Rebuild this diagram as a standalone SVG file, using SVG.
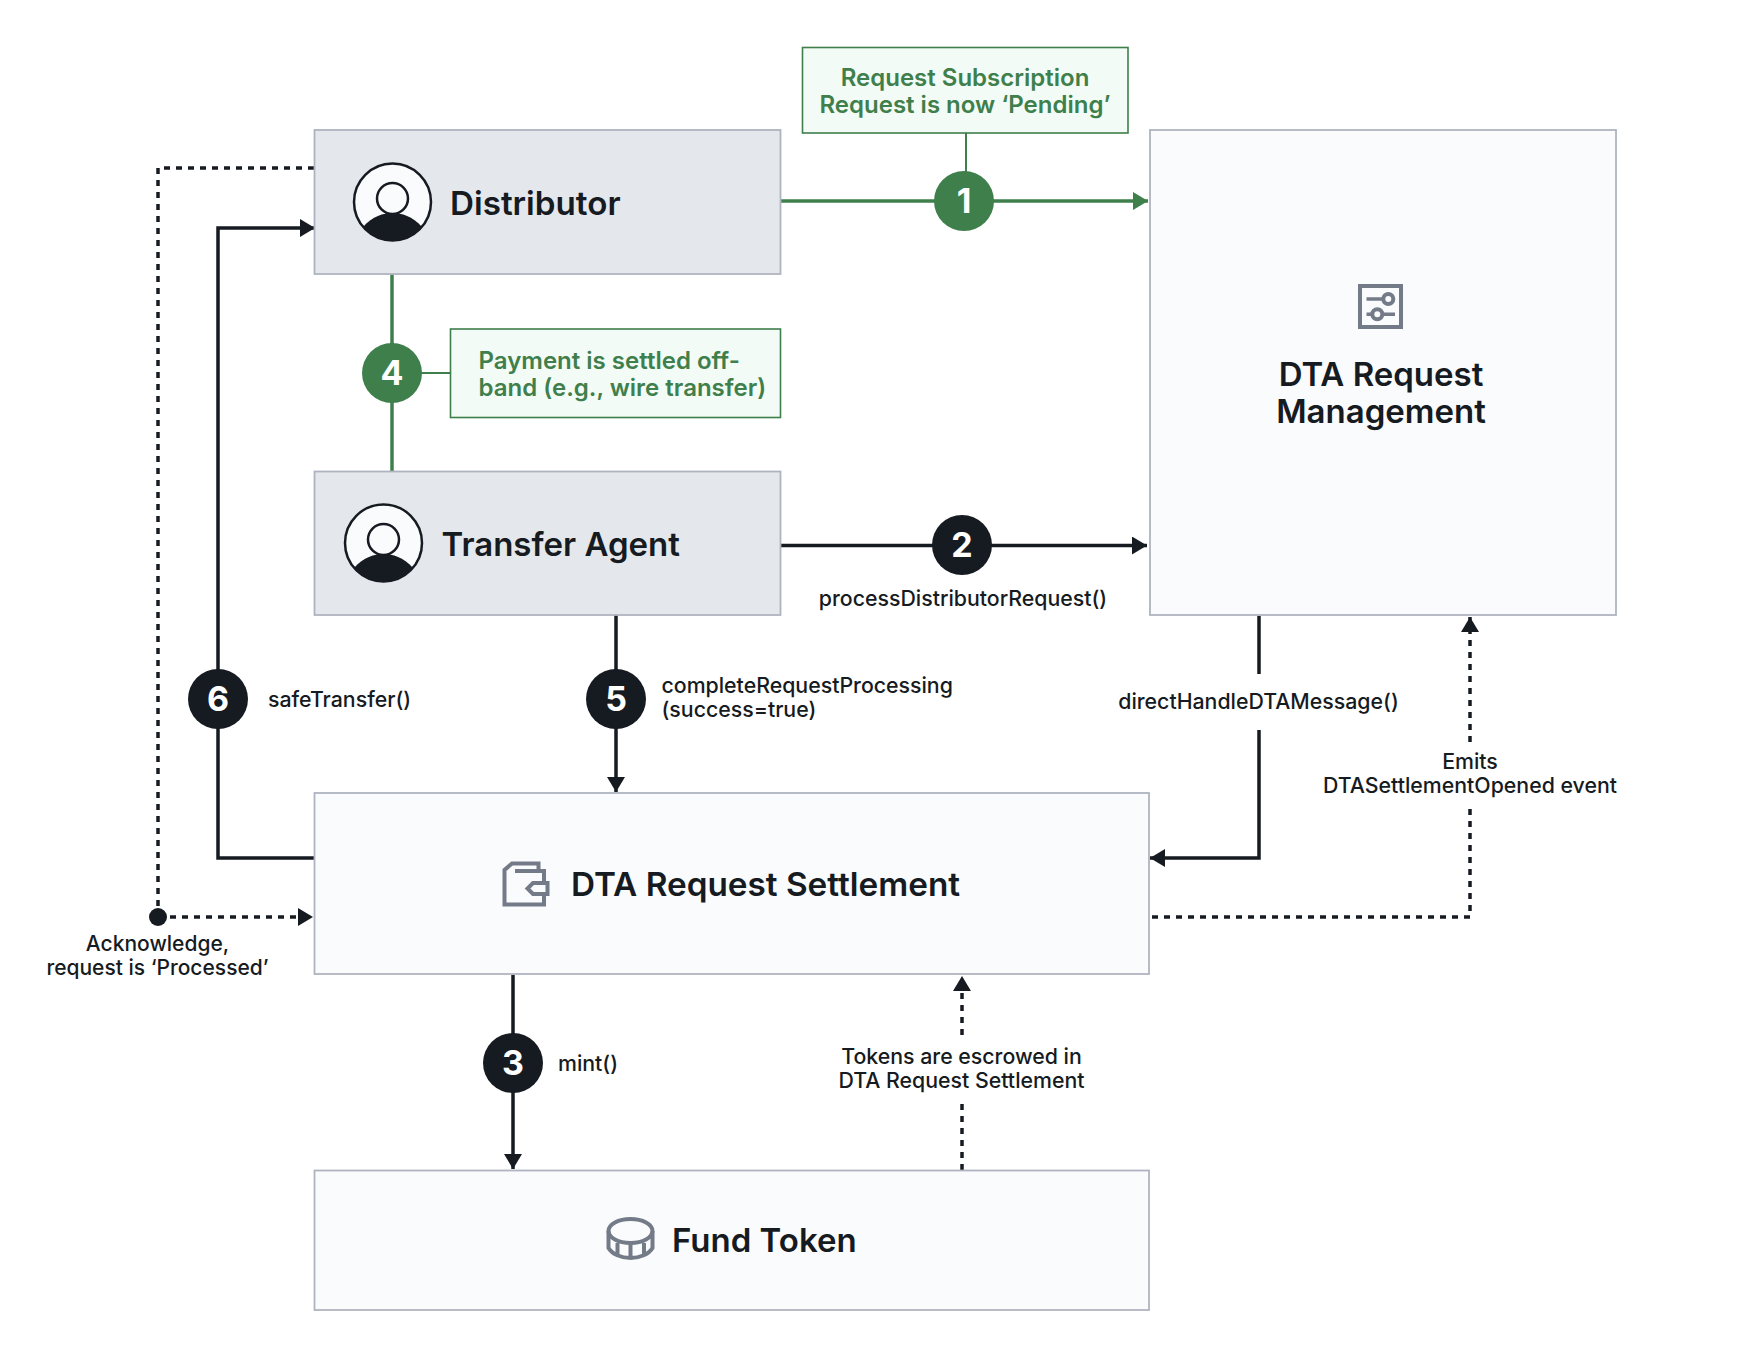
<svg xmlns="http://www.w3.org/2000/svg" width="1738" height="1368" viewBox="0 0 1738 1368">
<style>
text{font-family:Inter,"Liberation Sans",sans-serif;fill:#161A21}
.t{font-size:33px;font-weight:600}
.l{font-size:21.300px;font-weight:500}
.g{font-size:24px;font-weight:600;fill:#3F7F4B}
.n{font-size:34px;font-weight:700;fill:#fff;text-anchor:middle}
.m{text-anchor:middle}
.grey{fill:#E4E7EC;stroke:#AEB4BF;stroke-width:1.800}
.light{fill:#FAFBFD;stroke:#AEB4BF;stroke-width:1.800}
.note{fill:#F3FBF6;stroke:#3F7F4B;stroke-width:1.600}
.s{fill:none;stroke:#161A21;stroke-width:3.500}
.d{fill:none;stroke:#161A21;stroke-width:3.500;stroke-dasharray:6 6}
.gl{fill:none;stroke:#3F7F4B;stroke-width:3.500}
.gt{fill:none;stroke:#3F7F4B;stroke-width:2}
.ic{fill:none;stroke:#747B88;stroke-width:4}
.ics{fill:#FAFBFD;stroke:#747B88;stroke-width:4}
</style>
<defs>
<marker id="a" markerUnits="userSpaceOnUse" markerWidth="16" markerHeight="18" refX="15" refY="9" orient="auto"><path d="M0 0L15 9L0 18Z" fill="#161A21"/></marker>
<marker id="ag" markerUnits="userSpaceOnUse" markerWidth="16" markerHeight="18" refX="15" refY="9" orient="auto"><path d="M0 0L15 9L0 18Z" fill="#3F7F4B"/></marker>
<g id="person"><circle r="38.500" fill="#FAFBFD" stroke="#161A21" stroke-width="2.500"/><circle cy="-3.500" r="15.500" fill="#FAFBFD" stroke="#161A21" stroke-width="2.500"/><path d="M-29.500 25C-20 14-9 11 0 11S20 14 29.500 25C22 34 11 39 0 39S-22 34-29.500 25Z" fill="#161A21"/></g>
</defs>
<g id="connectors">
<path class="gl" d="M781 201H1148" marker-end="url(#ag)"/>
<path class="gt" d="M966 133V201"/>
<path class="gl" d="M392 274V471"/>
<path class="gt" d="M392 373H451"/>
<path class="s" d="M781 545.500H1147" marker-end="url(#a)"/>
<path class="s" d="M616 615V792" marker-end="url(#a)"/>
<path class="s" d="M314 858H218V228H315" marker-end="url(#a)"/>
<path class="s" d="M513 975V1169" marker-end="url(#a)"/>
<path class="d" d="M314 168H158V917"/>
<path class="d" d="M158 917H313" marker-end="url(#a)"/>
<circle cx="158" cy="917" r="9" fill="#161A21"/>
<path class="s" d="M1259 616V674"/>
<path class="s" d="M1259 730V858H1150" marker-end="url(#a)"/>
<path class="d" d="M1152 917H1470V806"/>
<path class="d" d="M1470 742V617" marker-end="url(#a)"/>
<path class="d" d="M962 1170V1100"/>
<path class="d" d="M962 1035V976" marker-end="url(#a)"/>
</g>
<g id="distributor"><rect class="grey" x="314.500" y="130" width="466" height="144"/><use href="#person" x="392.500" y="202"/><text class="t" x="450" y="214.500" style="font-size:33.200px">Distributor</text></g>
<g id="transfer-agent"><rect class="grey" x="314.500" y="471.500" width="466" height="143.500"/><use href="#person" x="383.500" y="543"/><text class="t" x="441.500" y="555.500">Transfer Agent</text></g>
<g id="dta-management"><rect class="light" x="1150" y="130" width="466" height="485"/>
<rect class="ic" x="1360" y="286" width="41" height="41"/><path class="ic" style="stroke-width:3.500" d="M1366.500 299H1383M1366.500 314.300H1395"/><circle class="ics" cx="1388.300" cy="299" r="5"/><circle class="ics" cx="1377.300" cy="314.300" r="5"/>
<text class="t m" x="1381" y="386">DTA Request</text><text class="t m" x="1381" y="423">Management</text></g>
<g id="dta-settlement"><rect class="light" x="314.500" y="793" width="834.500" height="181"/>
<path class="ic" d="M538.500 871V863.500H512L504.500 870V904.500H544V894M544 883V871H515M547.500 883V894H533L527.500 888.500L533 883Z"/>
<text class="t" x="571" y="895.500" style="font-size:33.300px">DTA Request Settlement</text></g>
<g id="fund-token"><rect class="light" x="314.500" y="1170.500" width="834.500" height="139.500"/>
<ellipse class="ic" cx="630.500" cy="1231" ry="12" rx="22"/><path class="ic" d="M608.500 1231V1248C612 1254 621 1258 630.500 1258S649 1254 652.500 1248V1231M617.500 1243V1256M630.500 1244V1258M644 1243V1256"/>
<text class="t" x="672" y="1251.500">Fund Token</text></g>
<g id="note-pending"><rect class="note" x="802.500" y="47.500" width="325.500" height="85.500"/><text class="g m" x="965" y="86">Request Subscription</text><text class="g m" x="965" y="113">Request is now ‘Pending’</text></g>
<g id="note-payment"><rect class="note" x="450.500" y="329" width="330" height="88.500"/><text class="g" x="478.500" y="369">Payment is settled off-</text><text class="g" x="478.500" y="396">band (e.g., wire transfer)</text></g>
<g id="step-1"><circle cx="964" cy="201" r="30" fill="#3F7F4B"/><text class="n" x="964" y="213">1</text></g>
<g id="step-2"><circle cx="962" cy="545" r="30" fill="#161A21"/><text class="n" x="962" y="557">2</text></g>
<g id="step-3"><circle cx="513" cy="1063" r="30" fill="#161A21"/><text class="n" x="513" y="1075">3</text></g>
<g id="step-4"><circle cx="392" cy="373" r="30" fill="#3F7F4B"/><text class="n" x="392" y="385">4</text></g>
<g id="step-5"><circle cx="616" cy="699" r="30" fill="#161A21"/><text class="n" x="616" y="711">5</text></g>
<g id="step-6"><circle cx="218" cy="699" r="30" fill="#161A21"/><text class="n" x="218" y="711">6</text></g>
<g id="labels">
<text class="l m" x="963" y="606">processDistributorRequest()</text>
<text class="l" x="661.500" y="693">completeRequestProcessing</text><text class="l" x="661.500" y="717">(success=true)</text>
<text class="l" x="268" y="707">safeTransfer()</text>
<text class="l m" x="1258.500" y="709">directHandleDTAMessage()</text>
<text class="l m" x="1470" y="769">Emits</text><text class="l m" x="1470" y="793">DTASettlementOpened event</text>
<text class="l m" x="157.500" y="951" style="font-size:21px">Acknowledge,</text><text class="l m" x="157.500" y="975" style="font-size:21px">request is ‘Processed’</text>
<text class="l" x="558" y="1071">mint()</text>
<text class="l m" x="961.500" y="1064">Tokens are escrowed in</text><text class="l m" x="961.500" y="1088">DTA Request Settlement</text>
</g>
</svg>
